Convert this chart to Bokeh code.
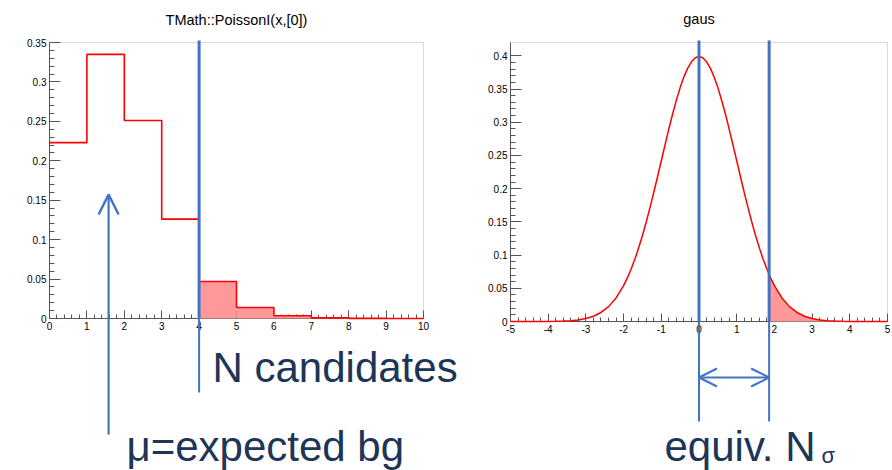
from bokeh.plotting import figure
from bokeh.layouts import row
from bokeh.models import (Range1d, LinearAxis, FixedTicker, CustomJSTickFormatter,
                          Label, Arrow, OpenHead, BoxAnnotation)
from bokeh.embed import file_html
from bokeh.resources import INLINE

# ---------------- data ----------------
poisson_edges = [0, 1, 2, 3, 4, 5, 6, 7, 8, 9, 10]
poisson_prob = [0.223, 0.335, 0.251, 0.126, 0.047, 0.014, 0.0035, 0.0008, 0.00014, 0.00002]
n_candidates = 4          # start of the shaded tail
mu_expected = 1.58        # position of the up arrow

gauss_x = [-5.0, -4.8, -4.6, -4.4, -4.2, -4.0, -3.8, -3.6, -3.4, -3.2, -3.0,
           -2.8, -2.6, -2.4, -2.2,
           -2.0, -1.9, -1.8, -1.7, -1.6, -1.5, -1.4, -1.3, -1.2, -1.1, -1.0,
           -0.9, -0.8, -0.7, -0.6, -0.5, -0.4, -0.3, -0.2, -0.1, 0.0,
           0.1, 0.2, 0.3, 0.4, 0.5, 0.6, 0.7, 0.8, 0.9, 1.0,
           1.1, 1.2, 1.3, 1.4, 1.5, 1.6, 1.7, 1.8, 1.9, 2.0,
           2.2, 2.4, 2.6, 2.8, 3.0, 3.2, 3.4, 3.6, 3.8, 4.0, 4.2, 4.4, 4.6, 4.8, 5.0]
gauss_y = [0.0, 0.0, 0.0, 0.0, 0.0001, 0.0001, 0.0003, 0.0006, 0.0012, 0.0024, 0.0044,
           0.0079, 0.0136, 0.0224, 0.0355,
           0.054, 0.0656, 0.079, 0.094, 0.1109, 0.1295, 0.1497, 0.1714, 0.1942, 0.2179, 0.242,
           0.2661, 0.2897, 0.3123, 0.3332, 0.3521, 0.3683, 0.3814, 0.391, 0.397, 0.3989,
           0.397, 0.391, 0.3814, 0.3683, 0.3521, 0.3332, 0.3123, 0.2897, 0.2661, 0.242,
           0.2179, 0.1942, 0.1714, 0.1497, 0.1295, 0.1109, 0.094, 0.079, 0.0656, 0.054,
           0.0355, 0.0224, 0.0136, 0.0079, 0.0044, 0.0024, 0.0012, 0.0006, 0.0003, 0.0001,
           0.0001, 0.0, 0.0, 0.0, 0.0]
n_sigma = 1.86
gauss_at_n_sigma = 0.0707

left_title = "TMath::PoissonI(x,[0])"
right_title = "gaus"
left_x_ticks = [0, 1, 2, 3, 4, 5, 6, 7, 8, 9, 10]
left_y_ticks = [0, 0.05, 0.1, 0.15, 0.2, 0.25, 0.3, 0.35]
right_x_ticks = [-5, -4, -3, -2, -1, 0, 1, 2, 3, 4, 5]
right_y_ticks = [0, 0.05, 0.1, 0.15, 0.2, 0.25, 0.3, 0.35, 0.4]
left_xr = (0, 10)
left_yr = (0, 0.35)
right_xr = (-5, 5)
right_yr = (0, 0.42)

# ---------------- styling ----------------
H = 470
W1, W2 = 470, 422
BLUE = "#4472C4"
RED = "#ff0000"
PINK = "#ff9999"
NAVY = "#1d3557"
AXIS = "#555555"
FONT = "Liberation Sans"
BASELINE_FIX = 0.36   # em: rendered alphabetic baseline sits this much lower


def minor_between(ticks, n=5):
    out = []
    for a, b in zip(ticks[:-1], ticks[1:]):
        step = (b - a) / n
        out += [a + step * k for k in range(1, n)]
    return out


def make_panel(W, off, px_x0, px_x1, py_top, py_bot, xr, yr):
    px_x0 -= off
    px_x1 -= off
    sx = (px_x1 - px_x0) / (xr[1] - xr[0])
    sy = (py_bot - py_top) / (yr[1] - yr[0])
    p = figure(width=W, height=H,
               x_range=Range1d(xr[0] - px_x0 / sx, xr[1] + (W - px_x1) / sx),
               y_range=Range1d(yr[0] - (H - py_bot) / sy, yr[1] + py_top / sy),
               x_axis_type=None, y_axis_type=None,
               output_backend="svg", toolbar_location=None,
               min_border=0, outline_line_color=None,
               background_fill_color="white", border_fill_color="white")
    xd = lambda px: xr[0] + (px - off - px_x0) / sx
    yd = lambda py: yr[0] + (py_bot - py) / sy
    return p, xd, yd


def add_axes(p, xr, yr, xticks, yticks):
    fmt = "return String(Number(tick.toFixed(4)));"
    xa = LinearAxis(fixed_location=yr[0], bounds=(float(xr[0]), float(xr[1])),
                    ticker=FixedTicker(ticks=[float(t) for t in xticks],
                                       minor_ticks=minor_between(xticks)),
                    formatter=CustomJSTickFormatter(code=fmt))
    ya = LinearAxis(fixed_location=xr[0], bounds=(float(yr[0]), float(yr[1])),
                    ticker=FixedTicker(ticks=[float(t) for t in yticks],
                                       minor_ticks=minor_between(yticks)),
                    formatter=CustomJSTickFormatter(code=fmt))
    for ax, tin, tmin in ((xa, 8, 4), (ya, 11, 5)):
        ax.axis_line_color = AXIS
        ax.major_tick_line_color = AXIS
        ax.minor_tick_line_color = AXIS
        ax.major_tick_in = tin
        ax.major_tick_out = 0
        ax.minor_tick_in = tmin
        ax.minor_tick_out = 0
        ax.major_label_text_font = FONT
        ax.major_label_text_font_size = "10px"
        ax.major_label_text_color = "black"
        ax.major_label_standoff = 3
    p.add_layout(xa, "below")
    p.add_layout(ya, "left")
    p.add_layout(BoxAnnotation(left=xr[0], right=xr[1], bottom=yr[0], top=yr[1],
                               fill_alpha=0, line_color="#8c8c8c", line_width=1,
                               level="underlay"))


def text(p, xd, yd, px, py, s, size, color=NAVY, align="left"):
    # py is the wanted baseline in picture pixels
    py_fix = py - BASELINE_FIX * size
    p.add_layout(Label(x=xd(px), y=yd(py_fix), text=s, text_font=FONT,
                       text_font_size=f"{size}px", text_color=color,
                       text_align=align, text_baseline="alphabetic"))


# ---------------- left: Poisson ----------------
p1, xd1, yd1 = make_panel(W1, 0, 49, 423, 42, 318, left_xr, left_yr)
add_axes(p1, left_xr, left_yr, left_x_ticks, left_y_ticks)

p1.quad(left=poisson_edges[n_candidates:-1], right=poisson_edges[n_candidates + 1:],
        bottom=0, top=poisson_prob[n_candidates:], fill_color=PINK, line_color=None,
        level="overlay")
p1.step(x=poisson_edges, y=poisson_prob + [poisson_prob[-1]], mode="after",
        line_color=RED, line_width=1.6, level="overlay")
p1.segment(x0=[n_candidates], y0=[yd1(40)], x1=[n_candidates], y1=[0],
           line_color=BLUE, line_width=3, level="overlay")
p1.segment(x0=[n_candidates], y0=[0], x1=[n_candidates], y1=[yd1(392)],
           line_color=BLUE, line_width=2, level="overlay")
p1.add_layout(Arrow(end=OpenHead(size=20, line_color=BLUE, line_width=2.5),
                    x_start=mu_expected, y_start=yd1(434),
                    x_end=mu_expected, y_end=yd1(194),
                    line_color=BLUE, line_width=2.2))
text(p1, xd1, yd1, 236, 25, left_title, 14.5, color="black", align="center")
text(p1, xd1, yd1, 212, 382, "N candidates", 42)
text(p1, xd1, yd1, 126, 461, "μ=expected bg", 42)

# ---------------- right: Gaussian ----------------
p2, xd2, yd2 = make_panel(W2, W1, 510, 887, 42, 321, right_xr, right_yr)
add_axes(p2, right_xr, right_yr, right_x_ticks, right_y_ticks)

tail_x = [n_sigma] + [x for x in gauss_x if x > n_sigma]
tail_y = [gauss_at_n_sigma] + [y for x, y in zip(gauss_x, gauss_y) if x > n_sigma]
p2.varea(x=tail_x, y1=[0] * len(tail_x), y2=tail_y, fill_color=PINK, level="overlay")
p2.line(x=gauss_x, y=gauss_y, line_color=RED, line_width=1.5, level="overlay")
for xv in (0, n_sigma):
    p2.segment(x0=[xv], y0=[yd2(40)], x1=[xv], y1=[0],
               line_color=BLUE, line_width=3, level="overlay")
    p2.segment(x0=[xv], y0=[0], x1=[xv], y1=[yd2(421)],
               line_color=BLUE, line_width=2, level="overlay")
p2.add_layout(Arrow(start=OpenHead(size=18, line_color=BLUE, line_width=2),
                    end=OpenHead(size=18, line_color=BLUE, line_width=2),
                    x_start=0, y_start=yd2(377), x_end=n_sigma, y_end=yd2(377),
                    line_color=BLUE, line_width=2))
text(p2, xd2, yd2, 698.5, 24, right_title, 14.5, color="black", align="center")
text(p2, xd2, yd2, 664, 461, "equiv. N", 42)
text(p2, xd2, yd2, 821, 463, "σ", 22)

layout = row(p1, p2, spacing=0)
open("out.html", "w").write(file_html(layout, INLINE))
